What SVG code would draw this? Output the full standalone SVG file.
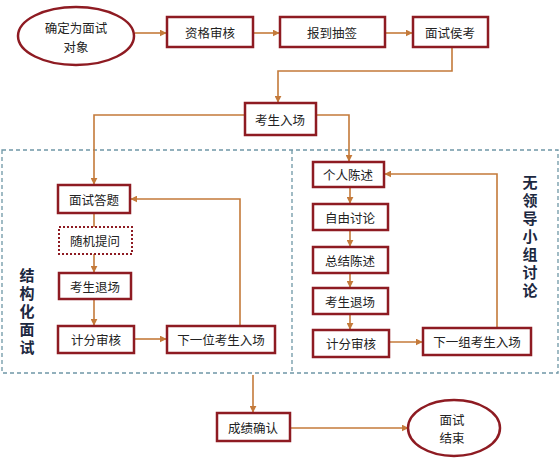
<svg xmlns="http://www.w3.org/2000/svg" width="560" height="463" viewBox="0 0 560 463">
<style>
.box{fill:#fff;stroke:#8e1b22;stroke-width:2.5}
.dot{fill:#fff;stroke:#8e1b22;stroke-width:2;stroke-dasharray:2 2}
.ell{fill:#fff;stroke:#8e1b22;stroke-width:2.5}
.t{font-family:"Noto Sans CJK SC","Liberation Sans",sans-serif;font-size:12.5px;fill:#222;text-anchor:middle;dominant-baseline:central}
.v{font-family:"Noto Sans CJK SC","Liberation Sans",sans-serif;font-size:15px;font-weight:bold;fill:#1c2840;writing-mode:vertical-rl;letter-spacing:3px;text-anchor:start}
.c{fill:none;stroke:#c47a3a;stroke-width:1.6}
.dash{fill:none;stroke:#6f97a6;stroke-width:1.3;stroke-dasharray:4 3}
</style>
<defs>
<marker id="a" viewBox="0 0 10 10" refX="9" refY="5" markerWidth="7" markerHeight="7" orient="auto" markerUnits="userSpaceOnUse">
<path d="M0,0 L10,5 L0,10 z" fill="#c47a3a"/>
</marker>
</defs>
<rect width="560" height="463" fill="#fff"/>
<g id="regions">
<rect class="dash" x="2" y="150" width="556" height="223"/>
<line class="dash" x1="292" y1="150" x2="292" y2="373"/>
</g>
<g id="connectors">
<line class="c" x1="135" y1="33" x2="166" y2="33" marker-end="url(#a)"/>
<line class="c" x1="253" y1="33" x2="279" y2="33" marker-end="url(#a)"/>
<line class="c" x1="385" y1="33" x2="412" y2="33" marker-end="url(#a)"/>
<polyline class="c" points="452,47 452,71 278,71 278,102" marker-end="url(#a)"/>
<polyline class="c" points="245,115 94,115 94,184" marker-end="url(#a)"/>
<polyline class="c" points="316,115 349,115 349,161" marker-end="url(#a)"/>
<line class="c" x1="94" y1="213" x2="94" y2="227"/>
<line class="c" x1="94" y1="254" x2="94" y2="272" marker-end="url(#a)"/>
<line class="c" x1="94" y1="299" x2="94" y2="325" marker-end="url(#a)"/>
<line class="c" x1="134" y1="339" x2="166" y2="339" marker-end="url(#a)"/>
<polyline class="c" points="240,326 240,199 131,199" marker-end="url(#a)"/>
<line class="c" x1="350" y1="187" x2="350" y2="203" marker-end="url(#a)"/>
<line class="c" x1="350" y1="230" x2="350" y2="246" marker-end="url(#a)"/>
<line class="c" x1="350" y1="273" x2="350" y2="287" marker-end="url(#a)"/>
<line class="c" x1="350" y1="314" x2="350" y2="329" marker-end="url(#a)"/>
<line class="c" x1="389" y1="342" x2="422" y2="342" marker-end="url(#a)"/>
<polyline class="c" points="497,328 497,174 385,174" marker-end="url(#a)"/>
<line class="c" x1="253" y1="375" x2="253" y2="412" marker-end="url(#a)"/>
<line class="c" x1="290" y1="428" x2="408" y2="428" marker-end="url(#a)"/>
</g>
<g id="n1"><ellipse class="ell" cx="76" cy="36" rx="58" ry="29"/><text class="t" x="76" y="27">确定为面试</text><text class="t" x="76" y="46">对象</text></g>
<g id="n2"><rect class="box" x="167" y="17" width="86" height="30"/><text class="t" x="210" y="32">资格审核</text></g>
<g id="n3"><rect class="box" x="280" y="17" width="105" height="30"/><text class="t" x="332" y="32">报到抽签</text></g>
<g id="n4"><rect class="box" x="413" y="17" width="75" height="30"/><text class="t" x="450" y="32">面试侯考</text></g>
<g id="n5"><rect class="box" x="245" y="103" width="71" height="32"/><text class="t" x="280" y="119">考生入场</text></g>
<g id="s1"><rect class="box" x="58" y="185" width="72" height="28"/><text class="t" x="94" y="199">面试答题</text></g>
<g id="s2"><rect class="dot" x="59" y="227" width="73" height="27"/><text class="t" x="95" y="240">随机提问</text></g>
<g id="s3"><rect class="box" x="59" y="273" width="72" height="26"/><text class="t" x="95" y="286">考生退场</text></g>
<g id="s4"><rect class="box" x="58" y="326" width="76" height="27"/><text class="t" x="96" y="339">计分审核</text></g>
<g id="s5"><rect class="box" x="167" y="326" width="108" height="27"/><text class="t" x="221" y="339">下一位考生入场</text></g>
<g id="label-left"><text class="v" x="27" y="268">结构化面试</text></g>
<g id="g1"><rect class="box" x="313" y="162" width="71" height="25"/><text class="t" x="348" y="174">个人陈述</text></g>
<g id="g2"><rect class="box" x="313" y="204" width="75" height="26"/><text class="t" x="350" y="217">自由讨论</text></g>
<g id="g3"><rect class="box" x="313" y="247" width="75" height="26"/><text class="t" x="350" y="260">总结陈述</text></g>
<g id="g4"><rect class="box" x="313" y="288" width="75" height="26"/><text class="t" x="350" y="301">考生退场</text></g>
<g id="g5"><rect class="box" x="313" y="330" width="76" height="27"/><text class="t" x="351" y="343">计分审核</text></g>
<g id="g6"><rect class="box" x="423" y="328" width="108" height="27"/><text class="t" x="477" y="341">下一组考生入场</text></g>
<g id="label-right"><text class="v" x="530" y="175">无领导小组讨论</text></g>
<g id="e1"><rect class="box" x="217" y="413" width="73" height="28"/><text class="t" x="253" y="427">成绩确认</text></g>
<g id="e2"><ellipse class="ell" cx="454" cy="428" rx="46" ry="28"/><text class="t" x="452" y="419">面试</text><text class="t" x="452" y="437">结束</text></g>
</svg>
